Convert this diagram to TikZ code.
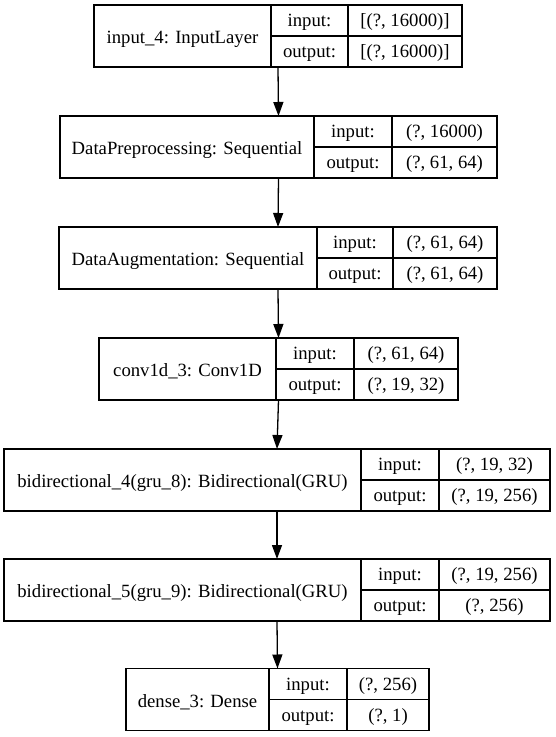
\documentclass[tikz,border=0pt]{standalone}
\usepackage{fontspec}
\setmainfont{Liberation Serif}
\usetikzlibrary{positioning,fit,arrows.meta}

\begin{document}
\begin{tikzpicture}[
  x=1pt, y=-1pt,
  cell/.style={rectangle, draw=black, line width=1.3pt, inner sep=0pt, outer sep=0pt, minimum height=62pt, font=\fontsize{18.7}{22}\selectfont, text height=15pt, text depth=0pt},
  port/.style={cell, minimum height=31pt, text height=12pt},
  layer/.style={inner sep=0pt, outer sep=0pt},
  arrow/.style={-{Triangle[length=14pt,width=10pt]}, line width=1.3pt}
]
\useasboundingbox (0,0) rectangle (556,737);

% Input layer
\node[cell, minimum width=177pt] (inp) at (182.5,36) {input\_4: InputLayer};
\node[port, minimum width=77pt, below right=0pt and 0pt of inp.north east] (inpI) {input:};
\node[port, minimum width=77pt, below=0pt of inpI] (inpO) {output:};
\node[port, minimum width=114pt, right=0pt of inpI] (inpIv) {[(?, 16000)]};
\node[port, minimum width=114pt, right=0pt of inpO] (inpOv) {[(?, 16000)]};
\node[layer, fit=(inp)(inpIv)(inpOv)] (inpL) {};

% Preprocessing
\node[cell, minimum width=254pt] (pre) at (187,147) {DataPreprocessing: Sequential};
\node[port, minimum width=78pt, below right=0pt and 0pt of pre.north east] (preI) {input:};
\node[port, minimum width=78pt, below=0pt of preI] (preO) {output:};
\node[port, minimum width=105pt, right=0pt of preI] (preIv) {(?, 16000)};
\node[port, minimum width=105pt, right=0pt of preO] (preOv) {(?, 61, 64)};
\node[layer, fit=(pre)(preIv)(preOv)] (preL) {};

% Augmentation
\node[cell, minimum width=258pt] (aug) at (188,258) {DataAugmentation: Sequential};
\node[port, minimum width=76pt, below right=0pt and 0pt of aug.north east] (augI) {input:};
\node[port, minimum width=76pt, below=0pt of augI] (augO) {output:};
\node[port, minimum width=104pt, right=0pt of augI] (augIv) {(?, 61, 64)};
\node[port, minimum width=104pt, right=0pt of augO] (augOv) {(?, 61, 64)};
\node[layer, fit=(aug)(augIv)(augOv)] (augL) {};

% Conv1D
\node[cell, minimum width=177pt] (conv) at (187.5,369) {conv1d\_3: Conv1D};
\node[port, minimum width=78pt, below right=0pt and 0pt of conv.north east] (convI) {input:};
\node[port, minimum width=78pt, below=0pt of convI] (convO) {output:};
\node[port, minimum width=104pt, right=0pt of convI] (convIv) {(?, 61, 64)};
\node[port, minimum width=104pt, right=0pt of convO] (convOv) {(?, 19, 32)};
\node[layer, fit=(conv)(convIv)(convOv)] (convL) {};

% Bidirectional GRU 1
\node[cell, minimum width=357pt] (bia) at (182.5,480) {bidirectional\_4(gru\_8): Bidirectional(GRU)};
\node[port, minimum width=78pt, below right=0pt and 0pt of bia.north east] (biaI) {input:};
\node[port, minimum width=78pt, below=0pt of biaI] (biaO) {output:};
\node[port, minimum width=111pt, right=0pt of biaI] (biaIv) {(?, 19, 32)};
\node[port, minimum width=111pt, right=0pt of biaO] (biaOv) {(?, 19, 256)};
\node[layer, fit=(bia)(biaIv)(biaOv)] (biaL) {};

% Bidirectional GRU 2
\node[cell, minimum width=357pt] (bib) at (182.5,590) {bidirectional\_5(gru\_9): Bidirectional(GRU)};
\node[port, minimum width=78pt, below right=0pt and 0pt of bib.north east] (bibI) {input:};
\node[port, minimum width=78pt, below=0pt of bibI] (bibO) {output:};
\node[port, minimum width=111pt, right=0pt of bibI] (bibIv) {(?, 19, 256)};
\node[port, minimum width=111pt, right=0pt of bibO] (bibOv) {(?, 256)};
\node[layer, fit=(bib)(bibIv)(bibOv)] (bibL) {};

% Dense
\node[cell, minimum width=143pt] (dns) at (197.5,699.5) {dense\_3: Dense};
\node[port, minimum width=78pt, below right=0pt and 0pt of dns.north east] (dnsI) {input:};
\node[port, minimum width=78pt, below=0pt of dnsI] (dnsO) {output:};
\node[port, minimum width=82pt, right=0pt of dnsI] (dnsIv) {(?, 256)};
\node[port, minimum width=82pt, right=0pt of dnsO] (dnsOv) {(?, 1)};
\node[layer, fit=(dns)(dnsIv)(dnsOv)] (dnsL) {};

% Arrows
\draw[arrow] (inpL.south) -- (preL.north);
\draw[arrow] (preL.south) -- (augL.north);
\draw[arrow] (augL.south) -- (convL.north);
\draw[arrow] (convL.south) -- (biaL.north);
\draw[arrow] (biaL.south) -- (bibL.north);
\draw[arrow] (bibL.south) -- (dnsL.north);

\end{tikzpicture}
\end{document}
